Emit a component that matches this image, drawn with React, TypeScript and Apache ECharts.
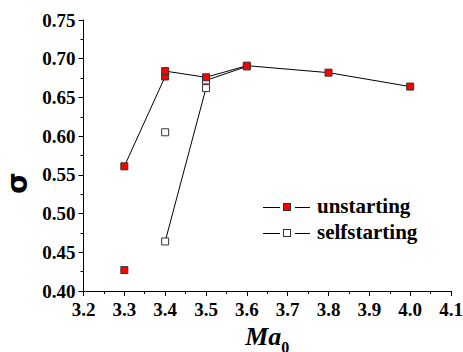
import React, { useEffect, useRef } from "react";
import * as echarts from "echarts";

// unstarting series (connected in order)
const unstartingMa = [3.3, 3.4, 3.4, 3.5, 3.6, 3.8, 4.0];
const unstartingSigma = [0.561, 0.677, 0.684, 0.676, 0.691, 0.682, 0.664];
// unstarting isolated point
const unstartingLoneMa = [3.3];
const unstartingLoneSigma = [0.427];

// selfstarting series (connected in order)
const selfMa = [3.4, 3.5, 3.5, 3.6];
const selfSigma = [0.464, 0.662, 0.672, 0.69];
// selfstarting isolated point
const selfLoneMa = [3.4];
const selfLoneSigma = [0.605];

const legendNames = ["unstarting", "selfstarting"];
const legendFills = ["#ff0000", "#ffffff"];

const FONT = "Liberation Serif";

const zip = (xs: number[], ys: number[]) => xs.map((x, i) => [x, ys[i]]);

function LegendRow({ y, fill, name }: { y: number; fill: string; name: string }) {
  return (
    <>
      <div style={{ position: "absolute", left: 263, top: y - 0.5, width: 17, height: 1, background: "#000" }} />
      <div style={{ position: "absolute", left: 283, top: y - 4, width: 8, height: 8, boxSizing: "border-box", border: "1px solid #333", background: fill }} />
      <div style={{ position: "absolute", left: 295, top: y - 0.5, width: 15, height: 1, background: "#000" }} />
      <span style={{ position: "absolute", left: 317, top: y - 11, font: `bold 21px "${FONT}"`, lineHeight: "21px", color: "#000", whiteSpace: "nowrap" }}>{name}</span>
    </>
  );
}

export default function App() {
  const ref = useRef<HTMLDivElement>(null);
  useEffect(() => {
    if (!ref.current) return;
    const chart = echarts.init(ref.current, undefined, { renderer: "svg" });
    const redItem = { color: "#ff0000", borderColor: "#333", borderWidth: 1, opacity: 1 };
    const whiteItem = { color: "#ffffff", borderColor: "#333", borderWidth: 1, opacity: 1 };
    chart.setOption({
      animation: false,
      backgroundColor: "#fff",
      grid: { left: 83.5, right: 12, top: 20, bottom: 61, containLabel: false, outerBoundsMode: "none" },
      xAxis: {
        type: "value",
        min: 3.2,
        max: 4.1,
        interval: 0.1,
        name: "{a|Ma}{b|0}",
        nameLocation: "middle",
        nameGap: 30,
        nameTextStyle: {
          rich: {
            a: { fontFamily: FONT, fontWeight: "bold", fontStyle: "italic", fontSize: 26, verticalAlign: "top", color: "#000" },
            b: { fontFamily: FONT, fontWeight: "bold", fontSize: 16, verticalAlign: "top", padding: [16, 0, 0, 0], color: "#000" },
          },
        },
        axisLine: { show: true, onZero: false, lineStyle: { color: "#000", width: 1 } },
        axisTick: { show: true, length: 5, lineStyle: { color: "#000" } },
        minorTick: { show: true, splitNumber: 2, length: 3, lineStyle: { color: "#000" } },
        splitLine: { show: false },
        axisLabel: { margin: 9, color: "#000", fontFamily: FONT, fontWeight: "bold", fontSize: 19, formatter: (v: number) => v.toFixed(1) },
      },
      yAxis: {
        type: "value",
        min: 0.4,
        max: 0.75,
        interval: 0.05,
        name: "σ",
        nameLocation: "middle",
        nameRotate: 90,
        nameGap: 51,
        nameTextStyle: { fontFamily: "DejaVu Sans", fontWeight: "bold", fontSize: 28, color: "#000", padding: [0, 55, 0, 0] },
        axisLine: { show: true, onZero: false, lineStyle: { color: "#000", width: 1 } },
        axisTick: { show: true, length: 5, lineStyle: { color: "#000" } },
        minorTick: { show: true, splitNumber: 2, length: 3, lineStyle: { color: "#000" } },
        splitLine: { show: false },
        axisLabel: { margin: 8, color: "#000", fontFamily: FONT, fontWeight: "bold", fontSize: 19, formatter: (v: number) => v.toFixed(2) },
      },
      series: [
        { name: legendNames[1], type: "line", z: 2, data: zip(selfMa, selfSigma), symbol: "rect", symbolSize: 7, itemStyle: whiteItem, lineStyle: { color: "#000", width: 1 } },
        { name: legendNames[1] + "-lone", type: "scatter", z: 2, data: zip(selfLoneMa, selfLoneSigma), symbol: "rect", symbolSize: 7, itemStyle: whiteItem },
        { name: legendNames[0], type: "line", z: 3, data: zip(unstartingMa, unstartingSigma), symbol: "rect", symbolSize: 7, itemStyle: redItem, lineStyle: { color: "#000", width: 1 } },
        { name: legendNames[0] + "-lone", type: "scatter", z: 3, data: zip(unstartingLoneMa, unstartingLoneSigma), symbol: "rect", symbolSize: 7, itemStyle: redItem },
      ],
    });
    return () => chart.dispose();
  }, []);
  return (
    <div style={{ position: "fixed", left: 0, top: 0, width: 463, height: 352 }}>
      <div ref={ref} style={{ position: "absolute", left: 0, top: 0, width: 463, height: 352 }} />
      <LegendRow y={207} fill={legendFills[0]} name={legendNames[0]} />
      <LegendRow y={233} fill={legendFills[1]} name={legendNames[1]} />
    </div>
  );
}
